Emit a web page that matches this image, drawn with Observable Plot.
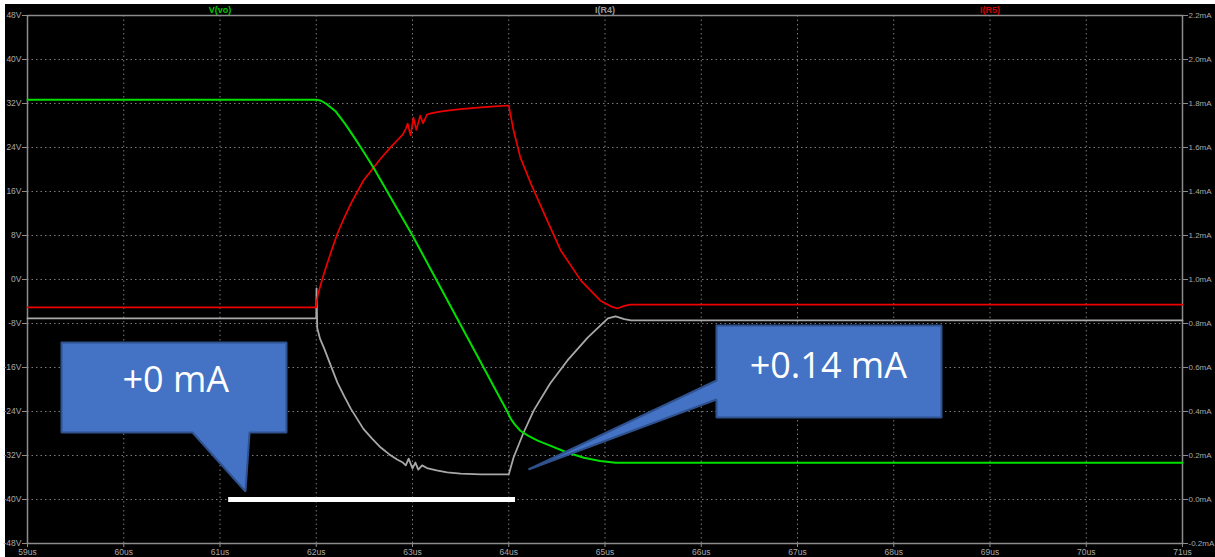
<!DOCTYPE html>
<html>
<head>
<meta charset="utf-8">
<script src="https://cdn.jsdelivr.net/npm/d3@7"></script>
<script src="https://cdn.jsdelivr.net/npm/@observablehq/plot@0.6"></script>
<style>
  html, body { margin: 0; padding: 0; background: #ffffff; }
  #wrap { padding: 4px 0 0 5px; width: 1210px; height: 553px; }
</style>
</head>
<body>
<div id="wrap"></div>
<script>
// ---- tick labels ----
const xTicks = [59, 60, 61, 62, 63, 64, 65, 66, 67, 68, 69, 70, 71];           // us
const vTicks = [-48, -40, -32, -24, -16, -8, 0, 8, 16, 24, 32, 40, 48];           // V
const mATicks = [-0.2, 0, 0.2, 0.4, 0.6, 0.8, 1.0, 1.2, 1.4, 1.6, 1.8, 2.0, 2.2]; // mA
const traceNames = ["V(vo)", "I(R4)", "I(R5)"];
const traceLabelAt = [61, 65, 69]; // us

// ---- V(vo), volts ----
const vvoT = [59, 62.0, 62.05, 62.1, 62.2, 62.3, 62.4, 62.5, 62.6, 62.8, 63.0, 63.2, 63.4, 63.6, 63.8, 63.91, 63.97, 64.02, 64.06, 64.12, 64.2, 64.3, 64.43, 64.6, 64.78, 64.95, 65.11, 71];
const vvoV = [32.7, 32.7, 32.5, 32.0, 30.6, 28.3, 25.7, 23.0, 20.2, 14.1, 8.0, 1.5, -5.0, -11.5, -18.0, -21.6, -23.5, -25.3, -26.3, -27.5, -28.4, -29.3, -30.2, -31.4, -32.4, -33.0, -33.3, -33.3];

// ---- I(R4), mA ----
const r4T = [59, 62.0, 62.003, 62.01, 62.04, 62.08, 62.15, 62.22, 62.29, 62.36, 62.49, 62.58, 62.67, 62.76, 62.84, 62.9, 62.93, 62.96, 63.0, 63.03, 63.06, 63.1, 63.16, 63.25, 63.36, 63.5, 63.71, 63.85, 64.0, 64.05, 64.15, 64.26, 64.43, 64.61, 64.82, 65.03, 65.11, 65.2, 65.27, 71];
const r4mA = [0.823, 0.823, 0.96, 0.78, 0.73, 0.689, 0.61, 0.531, 0.47, 0.412, 0.321, 0.277, 0.236, 0.205, 0.182, 0.168, 0.155, 0.186, 0.141, 0.168, 0.136, 0.155, 0.141, 0.132, 0.123, 0.118, 0.114, 0.114, 0.114, 0.191, 0.30, 0.405, 0.527, 0.632, 0.736, 0.823, 0.832, 0.82, 0.814, 0.814];

// ---- I(R5), mA ----
const r5T = [59, 62.0, 62.005, 62.02, 62.08, 62.15, 62.22, 62.29, 62.36, 62.49, 62.58, 62.67, 62.76, 62.84, 62.9, 62.93, 62.95, 62.98, 63.01, 63.04, 63.08, 63.11, 63.15, 63.19, 63.27, 63.36, 63.5, 63.71, 63.85, 64.0, 64.02, 64.05, 64.12, 64.23, 64.4, 64.54, 64.75, 64.95, 65.06, 65.13, 65.2, 65.26, 71];
const r5mA = [0.873, 0.873, 0.90, 0.936, 1.027, 1.12, 1.209, 1.28, 1.345, 1.45, 1.50, 1.55, 1.595, 1.632, 1.66, 1.685, 1.709, 1.655, 1.736, 1.68, 1.745, 1.71, 1.75, 1.755, 1.762, 1.768, 1.774, 1.782, 1.787, 1.791, 1.745, 1.677, 1.555, 1.436, 1.268, 1.132, 0.995, 0.905, 0.878, 0.868, 0.88, 0.886, 0.886];

// ---- annotations ----
const zeroBar = { mA: 0, t1: 61.09, t2: 64.07 };
const calloutTexts = ["+0 mA", "+0.14 mA"];
// callout outlines in data units (us, V)
const callout1T = [59.353, 61.691, 61.691, 61.307, 61.265, 60.714, 59.353, 59.353];
const callout1V = [-11.45, -11.45, -27.82, -27.82, -38.55, -27.82, -27.82, -11.45];
const callout2T = [66.158, 68.496, 68.496, 66.158, 66.158, 64.205, 66.158, 66.158];
const callout2V = [-8.36, -8.36, -25.09, -25.09, -21.82, -34.55, -18.36, -8.36];
const calloutTextT = [60.54, 67.32];
const calloutTextV = [-18.4, -15.8];

// current (mA) mapped onto the voltage axis: 0.8 mA <-> -8 V, 2.2 mA <-> 48 V
const mAtoV = mA => mA * 40 - 40;

const vvo = vvoT.map((t, i) => ({ t, v: vvoV[i] }));
const r4 = r4T.map((t, i) => ({ t, v: mAtoV(r4mA[i]) }));
const r5 = r5T.map((t, i) => ({ t, v: mAtoV(r5mA[i]) }));
const c1 = callout1T.map((t, i) => ({ t, v: callout1V[i] }));
const c2 = callout2T.map((t, i) => ({ t, v: callout2V[i] }));
const cText = calloutTexts.map((s, i) => ({ s, t: calloutTextT[i], v: calloutTextV[i] }));
const names = traceNames.map((s, i) => ({ s, t: traceLabelAt[i] }));
const nameColors = ["#00c800", "#9a9a9a", "#d00000"];

const gridStyle = { stroke: "#7a7a7a", strokeOpacity: 1, strokeDasharray: "1.5,3", strokeWidth: 1 };

const chart = Plot.plot({
  width: 1210,
  height: 553,
  marginLeft: 22,
  marginRight: 33,
  marginTop: 11,
  marginBottom: 14,
  style: { background: "#000000", color: "#a8a8a8", fontFamily: "Liberation Sans, Arial, sans-serif", fontSize: "8.5px", overflow: "visible" },
  x: { domain: [59, 71] },
  y: { domain: [-48, 48] },
  marks: [
    Plot.gridX(xTicks, gridStyle),
    Plot.gridY(vTicks, gridStyle),
    Plot.frame({ stroke: "#8c8c8c", strokeWidth: 1.5 }),
    Plot.axisX(xTicks, { tickFormat: d => d + "us", tickSize: 4, tickPadding: 1, label: null, stroke: "#8c8c8c" }),
    Plot.axisY(vTicks, { anchor: "left", tickFormat: d => d + "V", tickSize: 5, tickPadding: 1, label: null, stroke: "#8c8c8c" }),
    Plot.axisY(mATicks.map(mAtoV), { anchor: "right", tickFormat: (d, i) => mATicks[i].toFixed(1) + "mA", tickSize: 5, tickPadding: 1, label: null, stroke: "#8c8c8c", fontSize: 8 }),
    Plot.text(names, { x: "t", text: "s", frameAnchor: "top", dy: -5, lineAnchor: "middle", fill: (d, i) => nameColors[i], fontWeight: "bold", fontSize: 9 }),
    Plot.line(r4, { x: "t", y: "v", stroke: "#a8a8a8", strokeWidth: 1.8 }),
    Plot.line(r5, { x: "t", y: "v", stroke: "#ee0000", strokeWidth: 1.7 }),
    Plot.line(vvo, { x: "t", y: "v", stroke: "#00e000", strokeWidth: 2 }),
    Plot.ruleY([zeroBar], { y: d => mAtoV(d.mA), x1: "t1", x2: "t2", stroke: "#ffffff", strokeWidth: 5 }),
    Plot.line(c1, { x: "t", y: "v", fill: "#4472c4", stroke: "#2f528f", strokeWidth: 2, strokeLinejoin: "miter" }),
    Plot.line(c2, { x: "t", y: "v", fill: "#4472c4", stroke: "#2f528f", strokeWidth: 2, strokeLinejoin: "miter" }),
    Plot.text(cText, { x: "t", y: "v", text: "s", fill: "#ffffff", fontSize: 36, fontFamily: "Open Sans, sans-serif", textAnchor: "middle", lineAnchor: "middle" })
  ]
});
document.getElementById("wrap").appendChild(chart);
</script>
</body>
</html>
